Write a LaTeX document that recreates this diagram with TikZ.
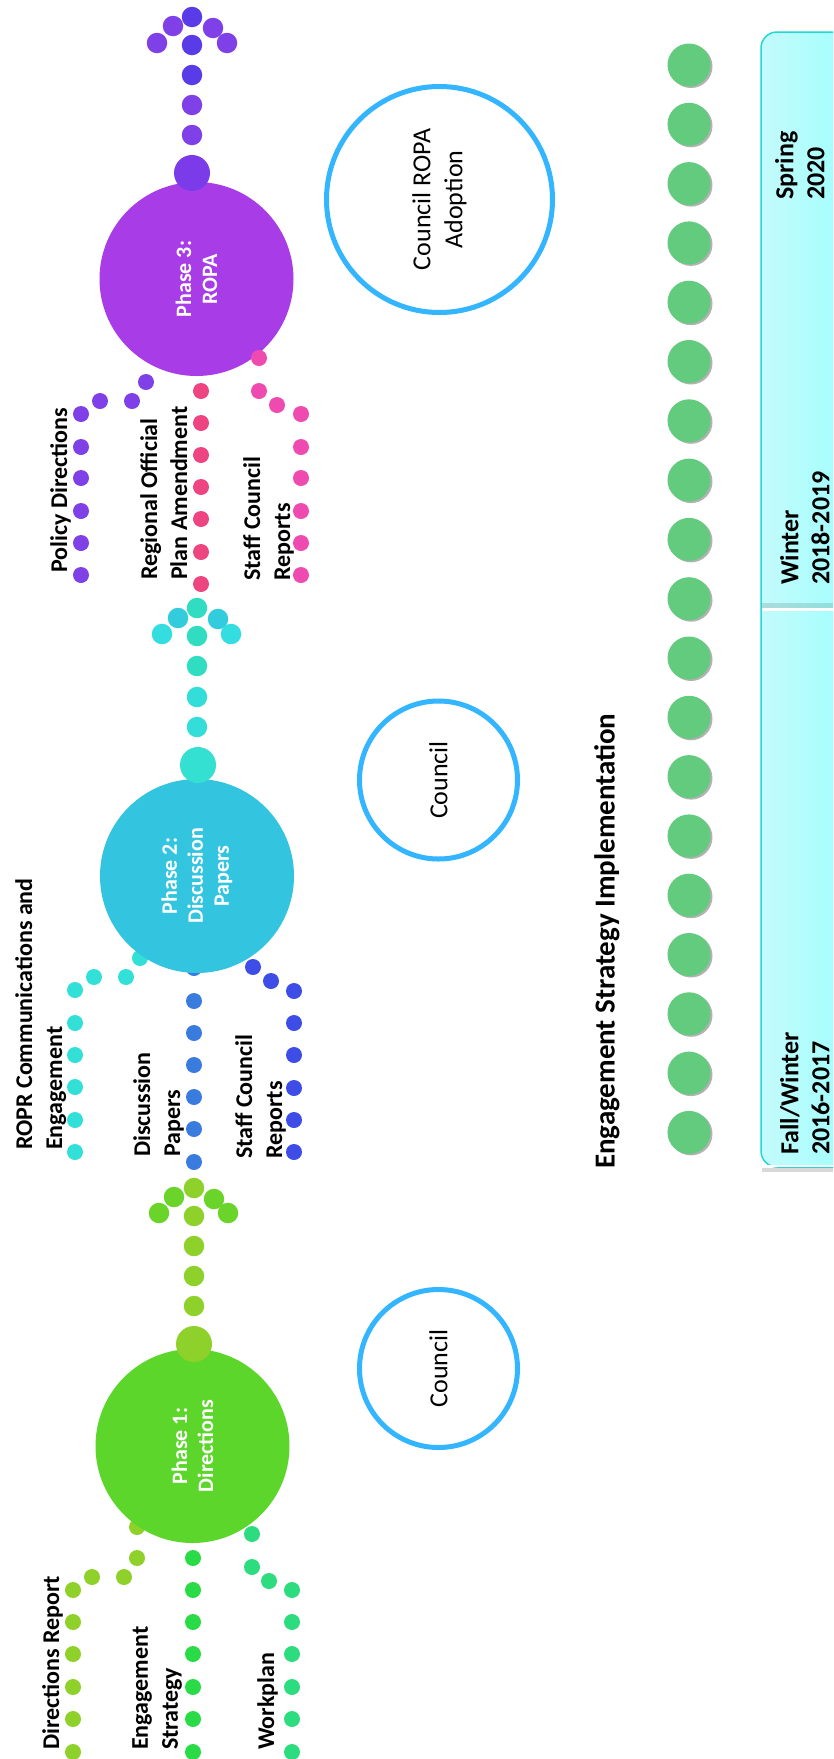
\documentclass[tikz,border=0pt]{standalone}
\usepackage{fontspec}
\setmainfont{Carlito}
\usetikzlibrary{shadows}
\definecolor{pone}{HTML}{5DD62C}
\definecolor{ponebig}{HTML}{8ED12A}
\definecolor{chone}{HTML}{8ED12A}
\definecolor{armone}{HTML}{6AD42A}
\definecolor{bra}{HTML}{8ED12A}
\definecolor{brb}{HTML}{2ADB48}
\definecolor{brc}{HTML}{2EDC80}
\definecolor{ptwo}{HTML}{33C5E0}
\definecolor{ptwobig}{HTML}{33E0D2}
\definecolor{chtwoa}{HTML}{33DDD8}
\definecolor{chtwob}{HTML}{30DDC0}
\definecolor{armtwo}{HTML}{33CCDD}
\definecolor{armtwob}{HTML}{33DDE0}
\definecolor{brtwoa}{HTML}{33E0D8}
\definecolor{brtwob}{HTML}{3A7BE0}
\definecolor{brtwoc}{HTML}{3D4DE5}
\definecolor{pthree}{HTML}{A83DE8}
\definecolor{pthreebig}{HTML}{7B3BE8}
\definecolor{chthreea}{HTML}{8040E8}
\definecolor{chthreeb}{HTML}{5A3BE8}
\definecolor{brthreea}{HTML}{8040E8}
\definecolor{brthreeb}{HTML}{EC4580}
\definecolor{brthreec}{HTML}{EE4AB0}
\definecolor{councilc}{HTML}{33B5FF}
\definecolor{gdotc}{HTML}{63CB7E}
\definecolor{tlborder}{HTML}{22D8D8}
\definecolor{tlleft}{HTML}{C4FBFB}
\definecolor{tlright}{HTML}{99FFFF}
\begin{document}
\begin{tikzpicture}[x=1pt,y=-1pt,
  dotS/.style={circle,inner sep=0pt,minimum size=16pt},
  dotM/.style={circle,inner sep=0pt,minimum size=20.5pt},
  dotL/.style={circle,inner sep=0pt,minimum size=36pt},
  phase/.style={circle,inner sep=0pt,minimum size=194pt,text=white,align=center,rotate=90,
     font=\fontsize{22}{26}\selectfont\bfseries},
  council/.style={circle,draw=councilc,line width=5pt,inner sep=0pt,align=center,rotate=90,
     font=\fontsize{26}{32}\selectfont},
  lbl/.style={rotate=90,anchor=north west,inner sep=0pt,align=left,
     font=\fontsize{24}{30}\selectfont\bfseries},
  tl/.style={rotate=90,anchor=north west,inner sep=0pt,align=left,
     font=\fontsize{26}{31}\selectfont\bfseries},
  gdot/.style={circle,fill=gdotc,inner sep=0pt,minimum size=43pt,
     drop shadow={shadow xshift=2pt,shadow yshift=-1.5pt,opacity=0.3,fill=black}}
]
\useasboundingbox (0,0) rectangle (833,1759);
\clip (0,0) rectangle (833,1759);
\fill[white] (0,0) rectangle (833,1759);

% ---------- timeline box ----------
\path[draw=tlborder,line width=1.5pt,left color=tlleft,right color=tlright,rounded corners=16pt]
  (761,32) rectangle (870,1167);
\fill[black,opacity=0.12] (762,603) rectangle (833,607.5);
\draw[white,line width=3pt] (762,609) -- (833,609);
\fill[black,opacity=0.15] (762,1168) rectangle (833,1172);
\draw[white,line width=2.5pt] (768,1166) -- (833,1166);
\node[tl] (spring) at (775,200) {Spring\\2020};
\node[tl] (winter) at (780,585) {Winter\\2018-2019};
\node[tl] (fall) at (780,1155) {Fall/Winter\\2016-2017};

% ---------- engagement strategy implementation dots ----------
\foreach \i in {0,...,18}
  \node[gdot] (g\i) at (689,{65+59.3*\i}) {};
\node[rotate=90,anchor=north west,inner sep=0pt,font=\fontsize{29}{34}\selectfont\bfseries]
  (esi) at (594,1169) {Engagement Strategy Implementation};

% ---------- council circles ----------
\node[council,minimum size=226pt] (cropa) at (439.5,199.5) {Council ROPA\\Adoption};
\node[council,minimum size=158pt] (cmid) at (438.5,780) {Council};
\node[council,minimum size=158pt] (clow) at (438.5,1368.5) {Council};

% ---------- phase 1 branches ----------
\foreach \x/\y [count=\i] in {137/1527,137/1558,124/1577,92/1577,73/1590,73/1622,73/1654,73/1687,73/1719,73/1752}
  \node[dotS,fill=bra] (oa\i) at (\x,\y) {};
\foreach \x/\y [count=\i] in {193/1527,193/1558,193/1590,193/1622,193/1654,193/1687,193/1719,193/1752}
  \node[dotS,fill=brb] (ob\i) at (\x,\y) {};
\foreach \x/\y [count=\i] in {252/1534,252/1567,269/1581,292/1590,292/1622,292/1654,292/1687,292/1719,292/1752}
  \node[dotS,fill=brc] (oc\i) at (\x,\y) {};

% ---------- phase 2 branches ----------
\foreach \x/\y [count=\i] in {140/958,126/977,94/977,75/990,75/1023,75/1055,75/1087,75/1120,75/1152}
  \node[dotS,fill=brtwoa] (ta\i) at (\x,\y) {};
\foreach \x/\y [count=\i] in {194/968,194/1001,194/1033,194/1065,194/1097,194/1129,194/1162}
  \node[dotS,fill=brtwob] (tb\i) at (\x,\y) {};
\foreach \x/\y [count=\i] in {253/967,271/981,294/991,294/1023,294/1055,294/1088,294/1120,294/1152}
  \node[dotS,fill=brtwoc] (tc\i) at (\x,\y) {};

% ---------- phase 3 branches ----------
\foreach \x/\y [count=\i] in {146/382,132/401,100/401,81/414,81/447,81/478,81/511,81/543,81/575}
  \node[dotS,fill=brthreea] (ha\i) at (\x,\y) {};
\foreach \x/\y [count=\i] in {201/391,201/423,201/455,201/487,201/519,201/552,201/584}
  \node[dotS,fill=brthreeb] (hb\i) at (\x,\y) {};
\foreach \x/\y [count=\i] in {259/391,277/405,301/414,301/447,301/478,301/511,301/543,301/575}
  \node[dotS,fill=brthreec] (hc\i) at (\x,\y) {};

% ---------- phase circles ----------
\node[phase,fill=pone] (ph1) at (192.5,1446) {Phase 1:\\Directions};
\node[phase,fill=ptwo] (ph2) at (197,876) {Phase 2:\\Discussion\\Papers};
\node[phase,fill=pthree] (ph3) at (196.5,279) {Phase 3:\\ROPA};
\node[dotS,fill=brthreec] (hc0) at (259,358) {};

% ---------- chains and arrow heads ----------
\node[dotL,fill=ponebig] (b1) at (194,1344) {};
\foreach \y [count=\i] in {1306,1276,1246,1216,1188}
  \node[dotM,fill=chone] (ca\i) at (194,\y) {};
\foreach \x/\y [count=\i] in {174/1197,159/1213,214/1199,228/1213}
  \node[dotM,fill=armone] (aa\i) at (\x,\y) {};

\node[dotL,fill=ptwobig] (b2) at (198,765) {};
\foreach \y [count=\i] in {727,697}
  \node[dotM,fill=chtwoa] (cb\i) at (197,\y) {};
\foreach \y [count=\i] in {666,636,608}
  \node[dotM,fill=chtwob] (cc\i) at (197,\y) {};
\node[dotM,fill=armtwo] (ab1) at (178,618) {};
\node[dotM,fill=armtwob] (ab2) at (162,634) {};
\node[dotM,fill=armtwo] (ab3) at (218,619) {};
\node[dotM,fill=armtwob] (ab4) at (231,634) {};

\node[dotL,fill=pthreebig] (b3) at (192,173) {};
\foreach \y [count=\i] in {135,105}
  \node[dotM,fill=chthreea] (cd\i) at (192,\y) {};
\foreach \y [count=\i] in {75,45,17}
  \node[dotM,fill=chthreeb] (ce\i) at (192,\y) {};
\foreach \x/\y [count=\i] in {173/26,157/43,213/28,227/43}
  \node[dotM,fill=chthreea] (ac\i) at (\x,\y) {};

% ---------- labels ----------
\node[lbl] (l1a) at (42,1750) {Directions Report};
\node[lbl] (l1b) at (132,1750) {Engagement\\Strategy};
\node[lbl] (l1c) at (257,1750) {Workplan};
\node[lbl] (l2a) at (15,1150) {ROPR Communications and\\Engagement};
\node[lbl] (l2b) at (133,1157) {Discussion\\Papers};
\node[lbl] (l2c) at (235,1159) {Staff Council\\Reports};
\node[lbl] (l3a) at (50,573) {Policy Directions};
\node[lbl] (l3b) at (140,580) {Regional Official\\Plan Amendment};
\node[lbl] (l3c) at (243,581) {Staff Council\\Reports};
\end{tikzpicture}
\end{document}
